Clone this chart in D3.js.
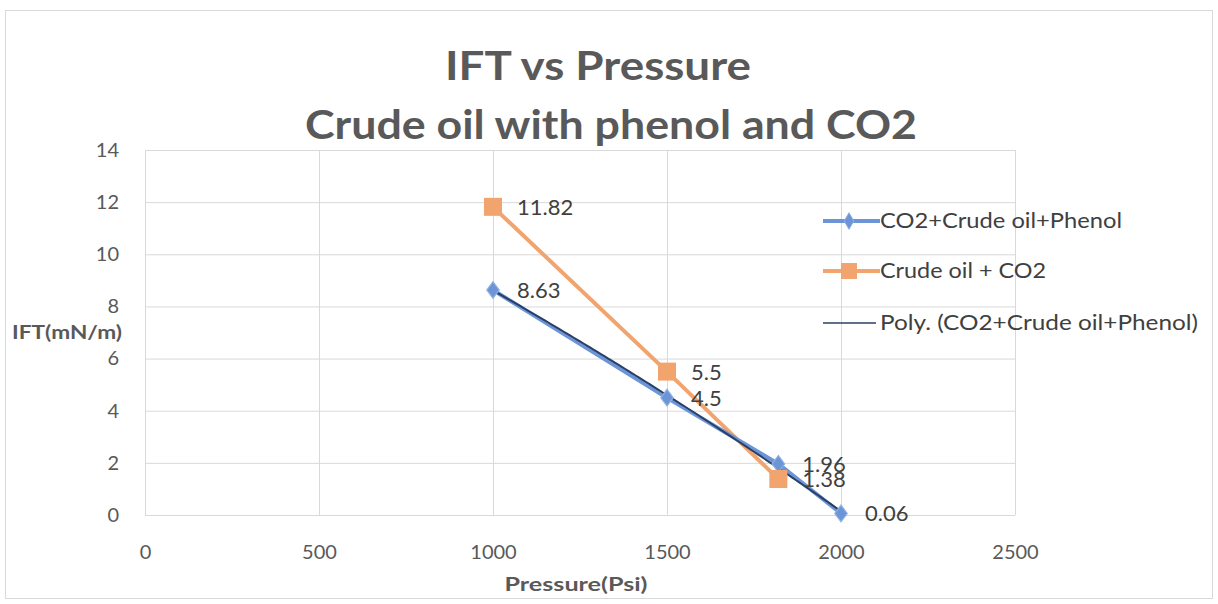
<!DOCTYPE html>
<html>
<head>
<meta charset="utf-8">
<script src="https://cdn.jsdelivr.net/npm/d3@7"></script>
<style>
  body { margin: 0; background: #fff; }
  text { font-family: Lato, "Open Sans", sans-serif; }
</style>
</head>
<body>
<div id="container"></div>
<script>
// data
var pressure = [1000, 1500, 1820, 2000];
var iftPhenol = [8.63, 4.5, 1.96, 0.06];     // CO2+Crude oil+Phenol
var iftCrude = [11.82, 5.5, 1.38, null];      // Crude oil + CO2 (no point at 2000)
var xTicks = [0, 500, 1000, 1500, 2000, 2500];
var yTicks = [0, 2, 4, 6, 8, 10, 12, 14];
var seriesNames = ["CO2+Crude oil+Phenol", "Crude oil + CO2", "Poly. (CO2+Crude oil+Phenol)"];
var titleLines = ["IFT vs Pressure", "Crude oil with phenol and CO2"];

var width = 1218, height = 604;
var blue = "#6b95d6", orange = "#f2a46e", navy = "#2b3f66", txt = "#595959";

var svg = d3.select("#container").append("svg")
    .attr("width", width)
    .attr("height", height);

// outer chart border
svg.append("rect")
    .attr("x", 5.5).attr("y", 10.5)
    .attr("width", 1207).attr("height", 588)
    .attr("fill", "#fff")
    .attr("stroke", "#d9d9d9");

var x = d3.scaleLinear().domain([0, 2500]).range([145, 1015]);
var y = d3.scaleLinear().domain([0, 14]).range([515, 150]);

// gridlines
svg.append("g").selectAll("line")
    .data(yTicks).enter().append("line")
    .attr("x1", x(0)).attr("x2", x(2500))
    .attr("y1", d => y(d) + 0.5).attr("y2", d => y(d) + 0.5)
    .attr("stroke", "#d9d9d9").attr("stroke-width", 1);
svg.append("g").selectAll("line")
    .data(xTicks).enter().append("line")
    .attr("y1", y(0)).attr("y2", y(14))
    .attr("x1", d => x(d) + 0.5).attr("x2", d => x(d) + 0.5)
    .attr("stroke", "#d9d9d9").attr("stroke-width", 1);

// axes (labels only, Excel style)
var yAxis = svg.append("g")
    .attr("transform", "translate(" + x(0) + ",0)")
    .call(d3.axisLeft(y).tickValues(yTicks).tickSize(0).tickPadding(26));
var xAxis = svg.append("g")
    .attr("transform", "translate(0," + y(0) + ")")
    .call(d3.axisBottom(x).tickValues(xTicks).tickFormat(d3.format("d")).tickSize(0).tickPadding(30));
[yAxis, xAxis].forEach(function(a) {
    a.select(".domain").remove();
    a.selectAll("text")
        .style("font-family", "Lato, sans-serif")
        .style("font-size", "20px")
        .attr("fill", txt);
});

// titles
titleLines.forEach(function(t, i) {
    svg.append("text")
        .attr("x", 598 + i * 13).attr("y", 80 + i * 59)
        .attr("text-anchor", "middle")
        .attr("font-size", 40)
        .attr("font-weight", "bold")
        .attr("fill", txt)
        .attr("textLength", i === 0 ? 306 : 612)
        .attr("lengthAdjust", "spacingAndGlyphs")
        .text(t);
});

svg.append("text")
    .attr("x", 67).attr("y", 339)
    .attr("text-anchor", "middle")
    .attr("font-size", 19).attr("font-weight", "bold")
    .attr("fill", txt)
    .attr("textLength", 110).attr("lengthAdjust", "spacingAndGlyphs")
    .text("IFT(mN/m)");

svg.append("text")
    .attr("x", 576).attr("y", 591)
    .attr("text-anchor", "middle")
    .attr("font-size", 19).attr("font-weight", "bold")
    .attr("fill", txt)
    .attr("textLength", 143).attr("lengthAdjust", "spacingAndGlyphs")
    .text("Pressure(Psi)");

// series data
var phenolPts = pressure.map((p, i) => ({x: p, y: iftPhenol[i]}));
var crudePts = pressure.map((p, i) => ({x: p, y: iftCrude[i]})).filter(d => d.y !== null);

var line = d3.line().x(d => x(d.x)).y(d => y(d.y));

// orange series
svg.append("path")
    .datum(crudePts)
    .attr("d", line)
    .attr("fill", "none")
    .attr("stroke", orange)
    .attr("stroke-width", 4);

// blue series
svg.append("path")
    .datum(phenolPts)
    .attr("d", line)
    .attr("fill", "none")
    .attr("stroke", blue)
    .attr("stroke-width", 4);

// polynomial (order 2) trendline of the blue series, least squares
function polyFit2(xs, ys) {
    var n = xs.length, S = [0, 0, 0, 0, 0], T = [0, 0, 0];
    for (var i = 0; i < n; i++) {
        var xv = xs[i] / 1000;
        for (var k = 0; k < 5; k++) S[k] += Math.pow(xv, k);
        for (var k = 0; k < 3; k++) T[k] += ys[i] * Math.pow(xv, k);
    }
    var A = [[S[0], S[1], S[2], T[0]], [S[1], S[2], S[3], T[1]], [S[2], S[3], S[4], T[2]]];
    for (var c = 0; c < 3; c++) {
        for (var r = c + 1; r < 3; r++) {
            var f = A[r][c] / A[c][c];
            for (var k = c; k < 4; k++) A[r][k] -= f * A[c][k];
        }
    }
    var b = [0, 0, 0];
    for (var r = 2; r >= 0; r--) {
        var s = A[r][3];
        for (var k = r + 1; k < 3; k++) s -= A[r][k] * b[k];
        b[r] = s / A[r][r];
    }
    return function(xv) { xv = xv / 1000; return b[0] + b[1] * xv + b[2] * xv * xv; };
}
var trend = polyFit2(pressure, iftPhenol);
var trendPts = d3.range(pressure[0], pressure[pressure.length - 1] + 1, 10).map(p => ({x: p, y: trend(p)}));
svg.append("path")
    .datum(trendPts)
    .attr("d", line)
    .attr("fill", "none")
    .attr("stroke", navy)
    .attr("stroke-width", 2);

// markers
var diamond = d3.symbol().type(d3.symbolDiamond).size(80);
svg.append("g").selectAll("path")
    .data(phenolPts).enter().append("path")
    .attr("d", diamond)
    .attr("transform", d => "translate(" + x(d.x) + "," + y(d.y) + ") scale(1.3,1)")
    .attr("fill", blue)
    .attr("stroke", "#8fb0e3").attr("stroke-width", 1);

svg.append("g").selectAll("rect")
    .data(crudePts).enter().append("rect")
    .attr("x", d => x(d.x) - 9).attr("y", d => y(d.y) - 9)
    .attr("width", 18).attr("height", 18)
    .attr("fill", orange);

// data labels
function addLabels(pts, dy) {
    svg.append("g").selectAll("text")
        .data(pts).enter().append("text")
        .attr("x", d => x(d.x) + 24)
        .attr("y", d => y(d.y) + dy)
        .attr("font-size", 22)
        .attr("fill", "#404040")
        .text(d => d.y);
}
addLabels(crudePts, 8);
addLabels(phenolPts, 8);

// legend
var legend = svg.append("g");
var ly = [221, 271, 323];
var legendLen = [242, 166, 318];
seriesNames.forEach(function(name, i) {
    var g = legend.append("g").attr("transform", "translate(0," + ly[i] + ")");
    if (i === 0) {
        g.append("line").attr("x1", 823).attr("x2", 880).attr("stroke", blue).attr("stroke-width", 4);
        g.append("path").attr("d", diamond).attr("transform", "translate(849,0)")
            .attr("fill", blue).attr("stroke", "#8fb0e3");
    } else if (i === 1) {
        g.append("line").attr("x1", 823).attr("x2", 880).attr("stroke", orange).attr("stroke-width", 4);
        g.append("rect").attr("x", 841).attr("y", -8).attr("width", 16).attr("height", 16).attr("fill", orange);
    } else {
        g.append("line").attr("x1", 823).attr("x2", 876).attr("stroke", navy).attr("stroke-width", 1.5);
    }
    g.append("text")
        .attr("x", 880).attr("y", 7)
        .attr("font-size", 21)
        .attr("fill", "#404040")
        .attr("textLength", legendLen[i])
        .attr("lengthAdjust", "spacingAndGlyphs")
        .text(name);
});
</script>
</body>
</html>
